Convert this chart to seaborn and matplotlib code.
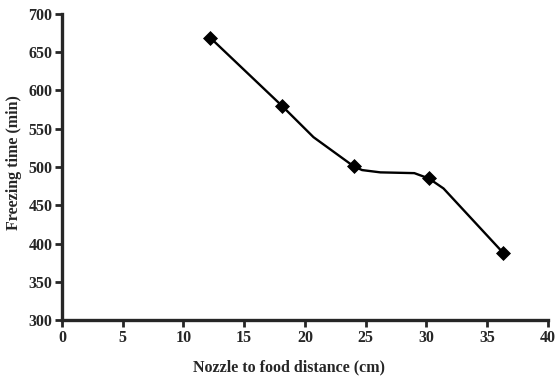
import matplotlib
matplotlib.use("Agg")
import matplotlib.pyplot as plt
import seaborn as sns
import pandas as pd

# measured points (markers)
distance = [12.2, 18.1, 24.0, 30.2, 36.3]
freezing_time = [669, 580, 501, 485, 388]

# smoothed connecting line
curve_x = [12.2, 18.1, 20.7, 24.0, 24.7, 26.2, 29.0, 30.2, 31.4, 36.3]
curve_y = [669, 580, 539, 501, 496, 493, 492, 485, 472, 388]

x_ticks = [0, 5, 10, 15, 20, 25, 30, 35, 40]
y_ticks = [300, 350, 400, 450, 500, 550, 600, 650, 700]

sns.set_style("ticks")
plt.rcParams["font.family"] = ["Liberation Serif", "DejaVu Serif"]
plt.rcParams["font.weight"] = "bold"

df_pts = pd.DataFrame({"x": distance, "y": freezing_time})
df_line = pd.DataFrame({"x": curve_x, "y": curve_y})

fig = plt.figure(figsize=(5.56, 3.81), dpi=100)
ax = fig.add_axes([0.1115, 0.160, 0.8741, 0.8033])

sns.lineplot(data=df_line, x="x", y="y", ax=ax, color="black", linewidth=1.7,
             sort=False, estimator=None)
sns.scatterplot(data=df_pts, x="x", y="y", ax=ax, color="black", marker="D",
                s=50, edgecolor="black", zorder=3)

ax.set_xlim(0, 40)
ax.set_ylim(300, 700)
ax.set_xticks(x_ticks)
ax.set_yticks(y_ticks)
ax.tick_params(axis="both", direction="out", length=5, width=2, labelsize=11.5, pad=2)
for lbl in ax.get_xticklabels() + ax.get_yticklabels():
    lbl.set_fontweight("bold")
for side in ["left", "bottom"]:
    ax.spines[side].set_linewidth(2.4)
sns.despine(ax=ax)

ax.set_xlabel("Nozzle to food distance (cm)", fontsize=11.5, fontweight="bold")
ax.set_ylabel("Freezing time (min)", fontsize=11.5, fontweight="bold")
ax.xaxis.set_label_coords(0.467, -0.128)
ax.yaxis.set_label_coords(-0.082, 0.513)

fig.savefig("out.png", dpi=100)
